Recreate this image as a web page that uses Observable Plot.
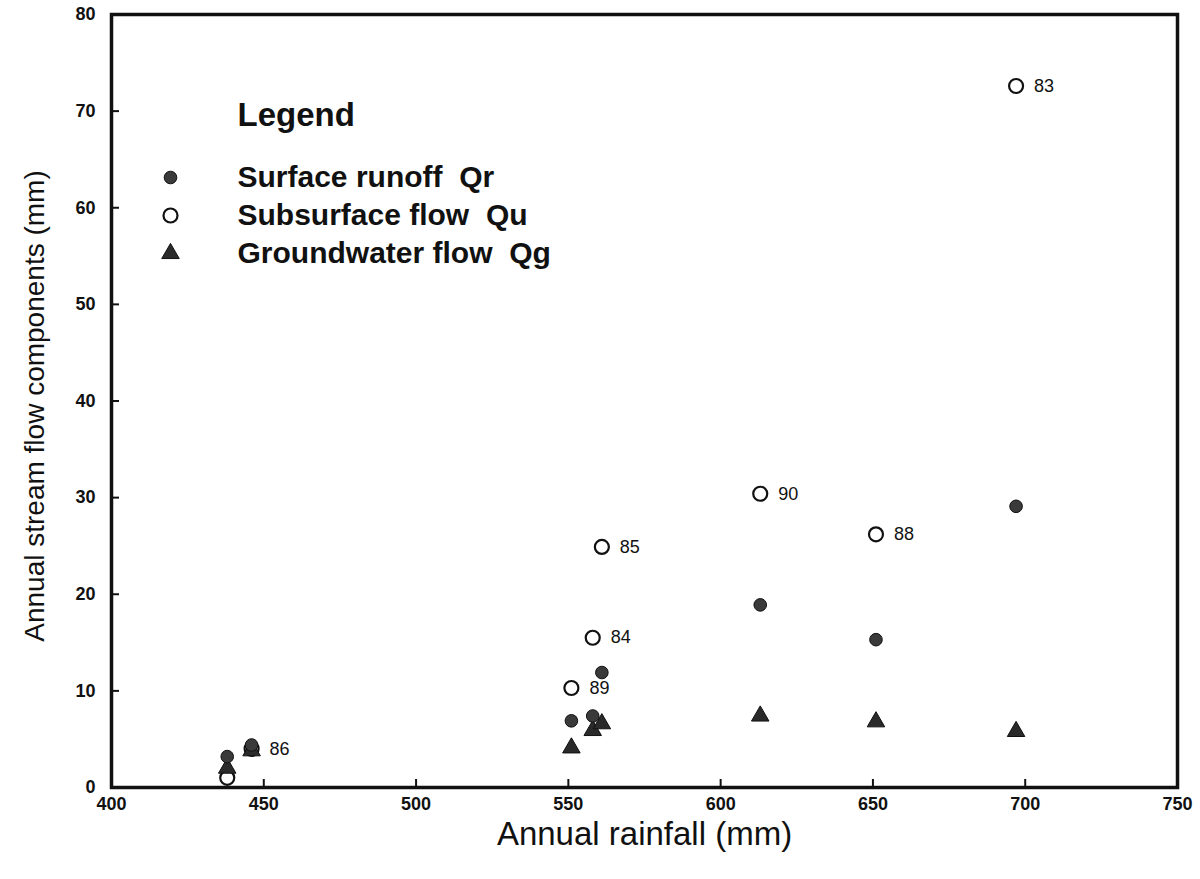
<!DOCTYPE html>
<html><head><meta charset="utf-8">
<script src="https://cdn.jsdelivr.net/npm/d3@7"></script>
<script src="https://cdn.jsdelivr.net/npm/@observablehq/plot@0.6"></script>
<style>body{margin:0;background:#fff}</style>
</head><body><div id="chart"></div>
<script>
const years = ["83", "84", "85", "86", "87", "88", "89", "90"];
const rainfall = [697, 558, 561, 446, 438, 651, 551, 613];
const surfaceRunoff = [29.1, 7.4, 11.9, 4.4, 3.2, 15.3, 6.9, 18.9];
const subsurfaceFlow = [72.6, 15.5, 24.9, 4.0, 1.0, 26.2, 10.3, 30.4];
const groundwaterFlow = [5.8, 5.9, 6.6, 3.8, 2.0, 6.8, 4.1, 7.4];
const yearLabels = ["83", "84", "85", "86", "", "88", "89", "90"];
const xTicks = [400, 450, 500, 550, 600, 650, 700, 750];
const yTicks = [0, 10, 20, 30, 40, 50, 60, 70, 80];
const xTitle = "Annual rainfall (mm)";
const yTitle = "Annual stream flow components (mm)";
const legendTitle = "Legend";
const legendLabels = ["Surface runoff\u00a0\u00a0Qr", "Subsurface flow\u00a0\u00a0Qu", "Groundwater flow\u00a0\u00a0Qg"];

const rows = years.map((yr, i) => ({
  year: yr, label: yearLabels[i], rain: rainfall[i],
  qr: surfaceRunoff[i], qu: subsurfaceFlow[i], qg: groundwaterFlow[i]
}));

const W = 1200, H = 879, mL = 111, mR = 23, mT = 14, mB = 92;
const frameW = W - mL - mR, frameH = H - mT - mB, tickLen = 8;

const font = "'Liberation Sans', Arial, Helvetica, sans-serif";
const symbolStyles = [
  {symbol: "circle", r: 6.3, fill: "#3a3a3a", stroke: "#111", strokeWidth: 1},
  {symbol: "circle", r: 7, fill: "white", stroke: "#111", strokeWidth: 2.2},
  {symbol: "triangle", r: 6.5, fill: "#2a2a2a", stroke: "#111", strokeWidth: 1}
];

const legendMarks = [];
legendMarks.push(Plot.text([legendTitle], {frameAnchor: "top-left", dx: 126, dy: 101, textAnchor: "start", lineAnchor: "middle", fontSize: 33, fontWeight: "bold", fill: "#111"}));
legendLabels.forEach((lab, i) => {
  legendMarks.push(Plot.dot([lab], {frameAnchor: "top-left", dx: 59, dy: 163 + 38 * i, ...symbolStyles[i]}));
  legendMarks.push(Plot.text([lab], {frameAnchor: "top-left", dx: 126, dy: 163 + 38 * i, textAnchor: "start", lineAnchor: "middle", fontSize: 30, fontWeight: "bold", fill: "#111"}));
});

const chart = Plot.plot({
  width: W,
  height: H,
  marginLeft: mL,
  marginRight: mR,
  marginTop: mT,
  marginBottom: mB,
  style: {fontFamily: font, background: "white", color: "#111"},
  x: {domain: [400, 750]},
  y: {domain: [0, 80]},
  marks: [
    Plot.axisX(xTicks, {anchor: "bottom", tickSize: 0, tickPadding: 10, fontSize: 18, fontWeight: "bold", label: null}),
    Plot.axisY(yTicks, {anchor: "left", tickSize: 0, tickPadding: 16, fontSize: 18, fontWeight: "bold", label: null}),
    Plot.ruleX(xTicks, {x: d => d, insetTop: frameH - tickLen, stroke: "#111", strokeWidth: 2}),
    Plot.ruleY(yTicks, {y: d => d, insetRight: frameW - tickLen, stroke: "#111", strokeWidth: 2}),
    Plot.frame({stroke: "#111", strokeWidth: 3.5}),
    Plot.dot(rows, {x: "rain", y: "qu", ...symbolStyles[1]}),
    Plot.dot(rows, {x: "rain", y: "qg", ...symbolStyles[2]}),
    Plot.dot(rows, {x: "rain", y: "qr", ...symbolStyles[0]}),
    Plot.text(rows.filter(d => d.label), {x: "rain", y: "qu", text: "label", dx: 18, textAnchor: "start", fontSize: 18, fill: "#111"}),
    Plot.text([xTitle], {frameAnchor: "bottom", dy: 47, textAnchor: "middle", lineAnchor: "middle", fontSize: 33, fill: "#111"}),
    Plot.text([yTitle], {frameAnchor: "left", dx: -76, dy: 5, rotate: -90, textAnchor: "middle", lineAnchor: "middle", fontSize: 28, fill: "#111"}),
    ...legendMarks
  ]
});
document.getElementById("chart").appendChild(chart);
</script>
</body></html>
